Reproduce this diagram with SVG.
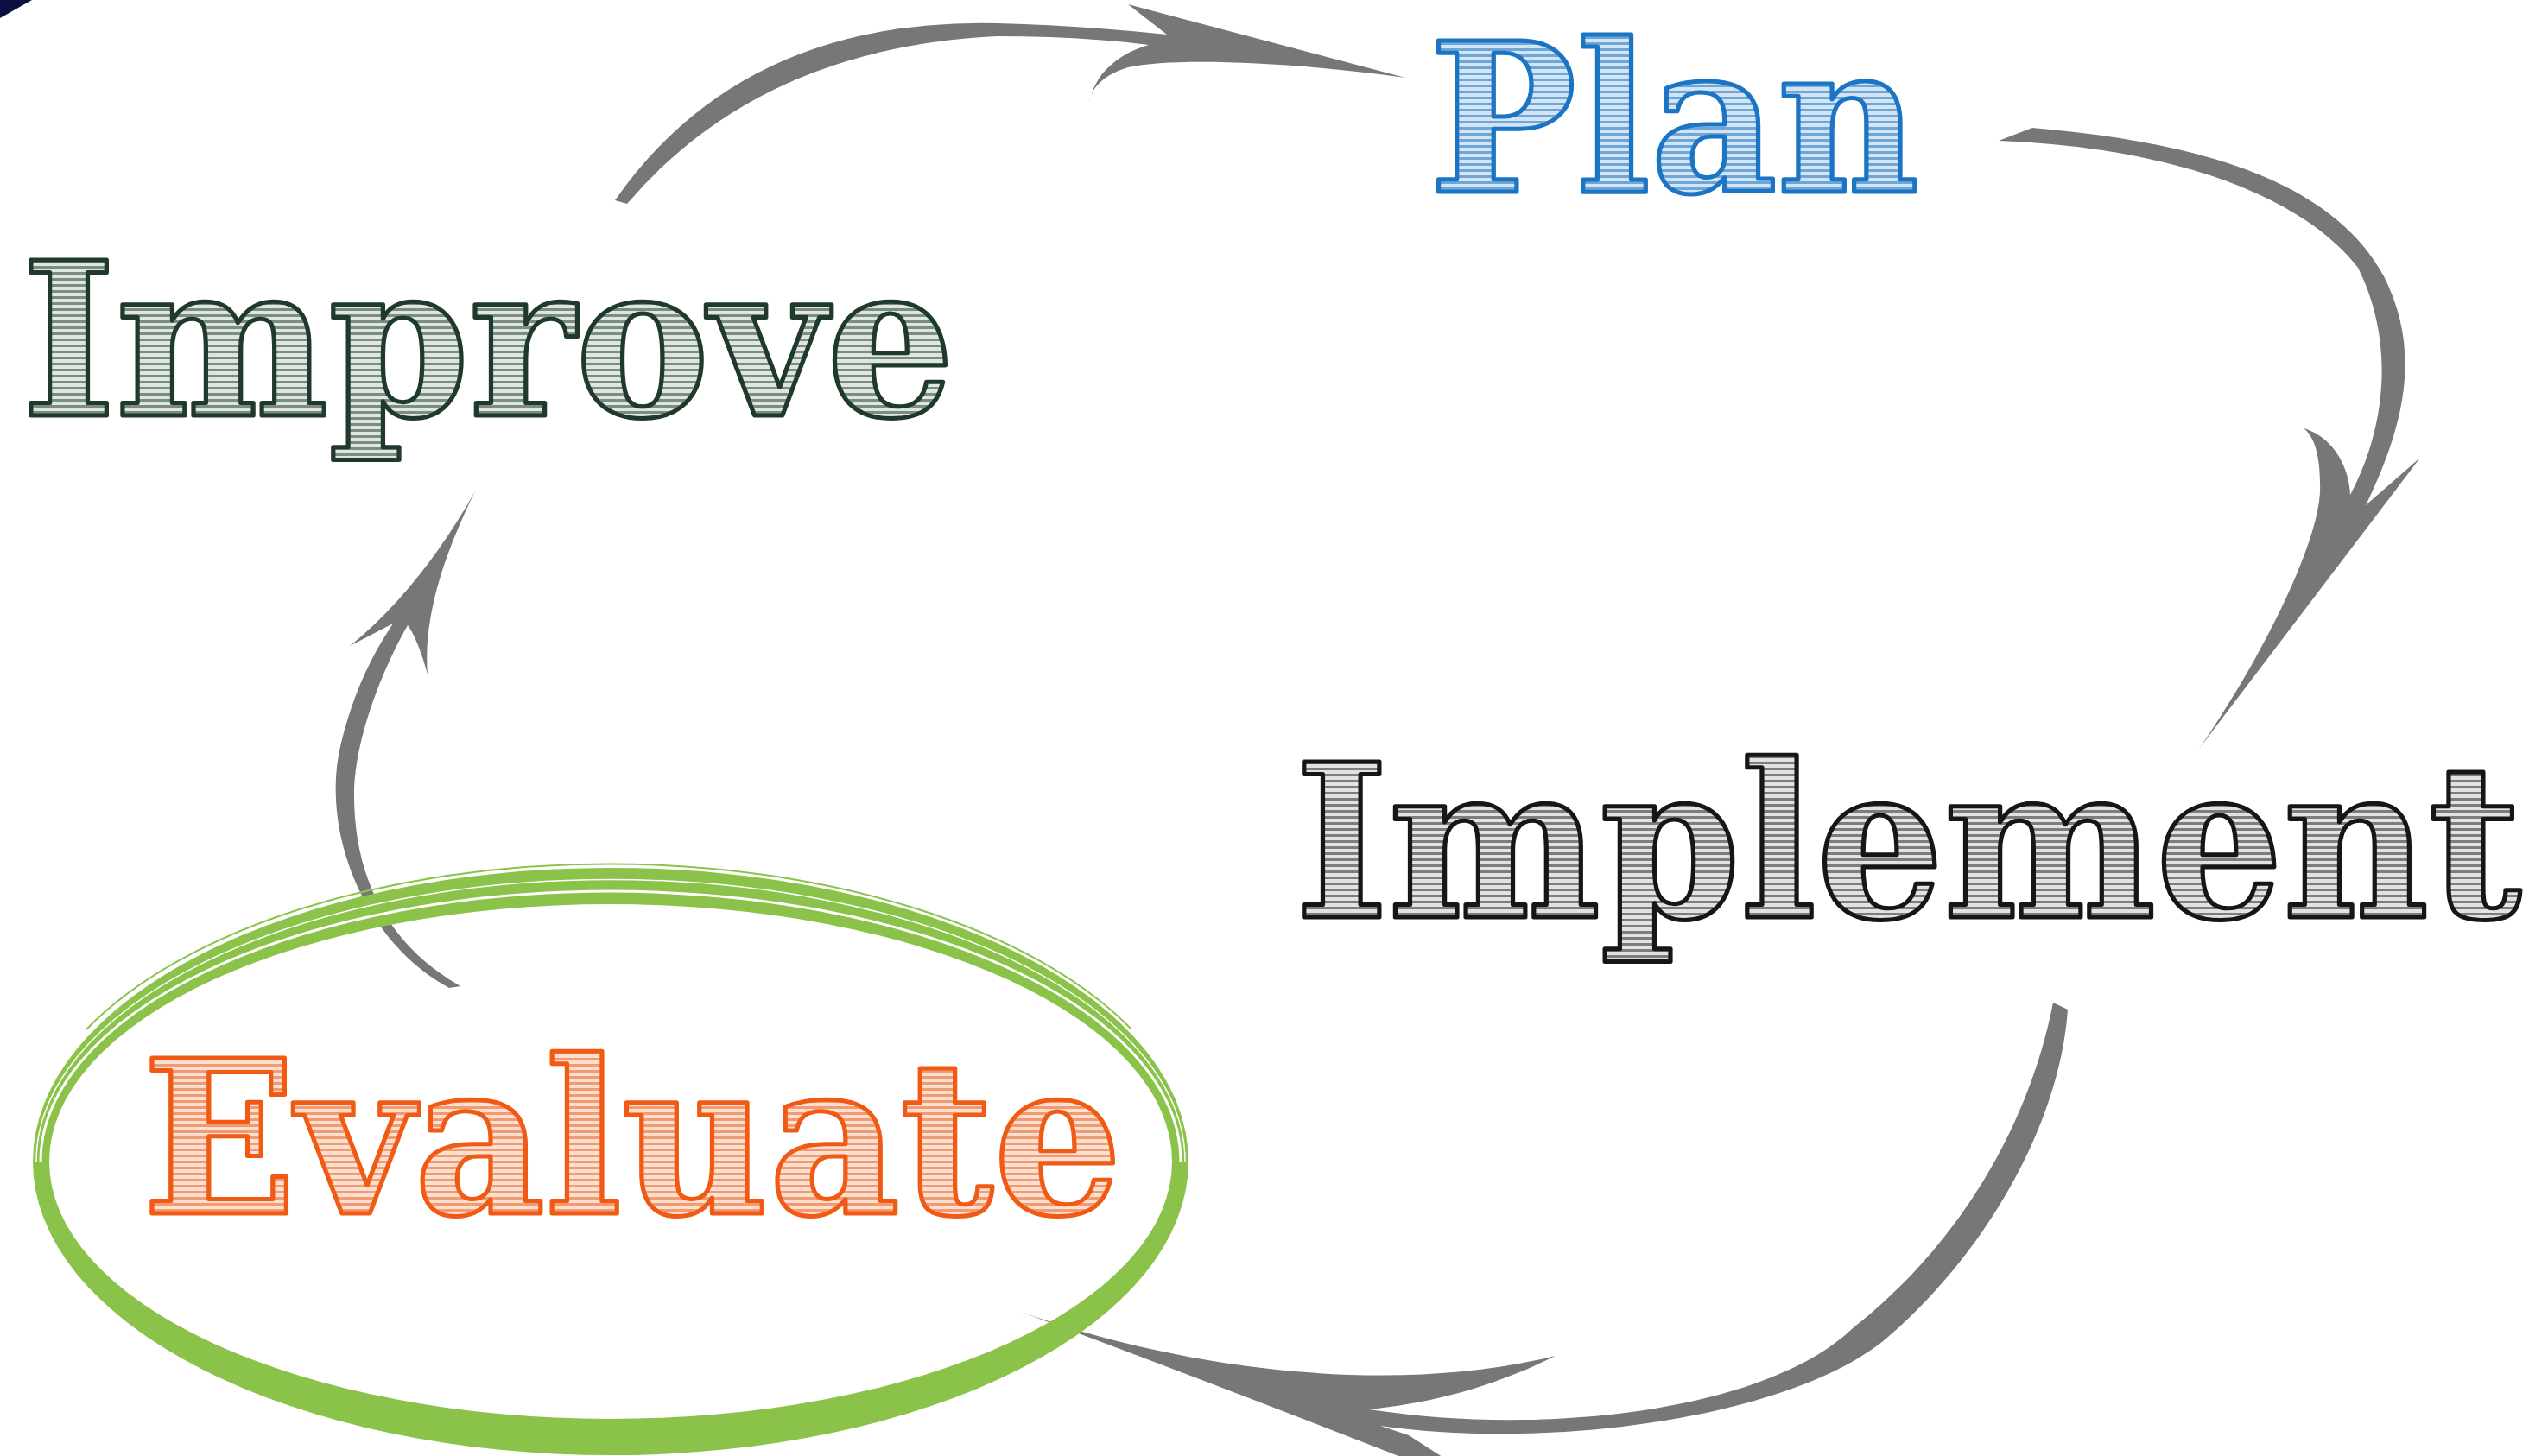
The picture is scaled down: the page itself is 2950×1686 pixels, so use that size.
<svg xmlns="http://www.w3.org/2000/svg" width="2950" height="1686" viewBox="0 0 2950 1686">
<defs>
<style>
.arrow{fill:#777777;stroke:none}
.lbl{font-family:"DejaVu Serif","Liberation Serif",serif;font-weight:bold;font-size:247px;font-stretch:condensed;stroke-width:5;stroke-linejoin:round}
.ring{fill:#8bc34a;fill-rule:evenodd;stroke:none}
.scratch{fill:none;stroke:#ffffff}
.thin{fill:none;stroke:#8bc34a}
</style>
<pattern id="hBlue" patternUnits="userSpaceOnUse" width="12" height="7">
<rect width="12" height="7" fill="#d3e4f4"/>
<rect y="0" width="12" height="3" fill="#6fa6d8"/>
</pattern>
<pattern id="hGreen" patternUnits="userSpaceOnUse" width="12" height="7">
<rect width="12" height="7" fill="#dfe5e1"/>
<rect y="0" width="12" height="3" fill="#7b8c82"/>
</pattern>
<pattern id="hGray" patternUnits="userSpaceOnUse" width="12" height="7">
<rect width="12" height="7" fill="#e2e2e2"/>
<rect y="0" width="12" height="3" fill="#7d7d7d"/>
</pattern>
<pattern id="hOrange" patternUnits="userSpaceOnUse" width="12" height="7">
<rect width="12" height="7" fill="#fbe0d2"/>
<rect y="0" width="12" height="3" fill="#f39a70"/>
</pattern>
</defs>
<rect width="2950" height="1686" fill="#ffffff"/>
<polygon points="0,0 37,0 0,21" fill="#0b1040"/>

<g id="connectors">
<path class="arrow" d="M 712,232 Q 860,20 1155,27 Q 1260,30 1351,40 L 1306,5 L 1627,90 C 1500,72 1360,66 1306,78 C 1280,86 1264,100 1261,118 C 1268,85 1295,62 1330,52 Q 1250,42 1155,42 Q 880,55 726,236 Z"/>
<path class="arrow" d="M 2314,163 L 2353,148 C 2550,165 2700,210 2760,320 C 2800,400 2790,480 2739,585 L 2802,530 L 2546,867 C 2620,760 2690,620 2686,560 C 2686,530 2680,505 2667,496 C 2700,505 2720,540 2721,573 C 2760,500 2775,400 2730,310 C 2660,220 2500,170 2314,163 Z"/>
<path class="arrow" d="M 2377,1161 L 2394,1169 C 2385,1300 2300,1450 2186,1548 C 2080,1640 1800,1680 1598,1651 L 1631,1662 L 1690,1700 L 1655,1700 Q 1400,1600 1179,1518 C 1350,1580 1600,1620 1801,1570 C 1720,1610 1650,1625 1585,1632 C 1800,1665 2050,1630 2145,1538 C 2270,1440 2350,1300 2377,1161 Z"/>
<path class="arrow" d="M 520,1144 C 420,1090 370,960 395,860 C 410,800 430,760 455,722 L 405,748 C 460,704 510,640 550,569 C 510,650 490,720 495,781 C 488,755 480,735 472,724 C 440,780 410,860 410,920 C 410,1030 460,1100 533,1142 Z"/>
</g>

<g id="node-plan">
<text class="lbl" x="1655" y="222" textLength="567" lengthAdjust="spacingAndGlyphs" fill="url(#hBlue)" stroke="#1b75c4" style="font-size:239px">Plan</text>
</g>
<g id="node-improve">
<text class="lbl" x="25" y="481" textLength="1080" lengthAdjust="spacingAndGlyphs" fill="url(#hGreen)" stroke="#1f3a2a">Improve</text>
</g>
<g id="node-implement">
<text class="lbl" x="1499" y="1062" textLength="1420" lengthAdjust="spacingAndGlyphs" fill="url(#hGray)" stroke="#161616">Implement</text>
</g>
<g id="node-evaluate">
<path class="ring" d="M 38,1345 A 669 340 0 1 1 1376,1345 A 669 340 0 1 1 38,1345 Z M 57,1345 A 650 298 0 1 0 1357,1345 A 650 298 0 1 0 57,1345 Z"/>
<path class="scratch" stroke-width="3" d="M 47,1345 A 660 313 0 0 1 1367,1345"/>
<path class="scratch" stroke-width="1.5" d="M 42,1345 A 664 326 0 0 1 1372,1345"/>
<path class="thin" stroke-width="2" d="M 100,1192 A 675 344 0 0 1 1310,1192"/>
<text class="lbl" x="165" y="1405" textLength="1134" lengthAdjust="spacingAndGlyphs" fill="url(#hOrange)" stroke="#f05a14">Evaluate</text>
</g>
</svg>
